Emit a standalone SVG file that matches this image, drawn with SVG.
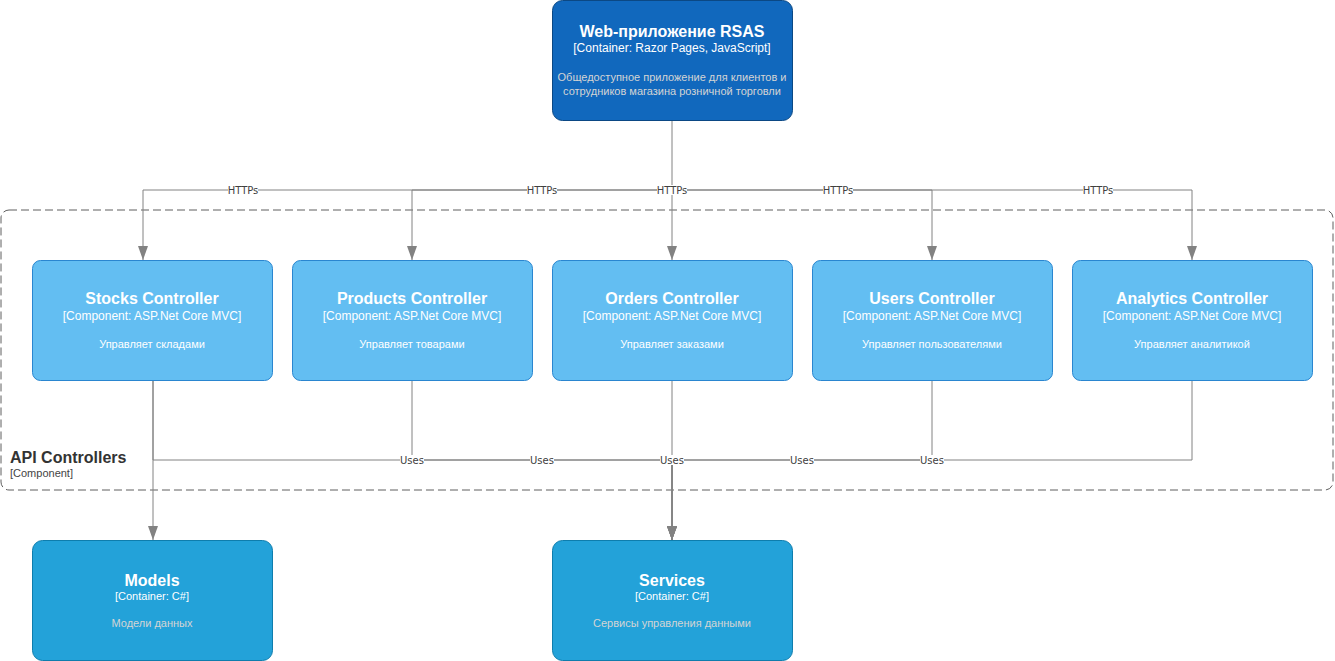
<svg xmlns="http://www.w3.org/2000/svg" width="1335" height="661" viewBox="0 0 1335 661">
<style>
.t{font-family:"Liberation Sans",Arial,sans-serif;fill:#fff;text-anchor:middle}
.h{font-size:16px;font-weight:bold}
.s{font-size:12px}
.d{font-size:11px}
.cont{fill:#1168bd;stroke:#0b4884}
.comp{fill:#63bef2;stroke:#2a86d0}
.db{fill:#23a2d9;stroke:#0e7dad}
.ln{fill:none;stroke:#828282;stroke-width:1}
.lb{font-family:"DejaVu Sans",sans-serif;font-size:10px;fill:#404040;text-anchor:middle}
.lbg{fill:#fff}
.dim{fill:#d4d4d4}
</style>
<defs>
<marker id="ar" markerWidth="10" markerHeight="14" refX="5" refY="14" orient="0" markerUnits="userSpaceOnUse" viewBox="0 0 10 14">
<path d="M0,0 L10,0 L5,14 Z" fill="#828282"/>
</marker>
</defs>
<rect width="1335" height="661" fill="#fff"/>
<g id="boundary">
<rect x="1" y="210" width="1332" height="280" rx="8" fill="none" stroke="#5e5e5e" stroke-dasharray="8,4"/>
<text x="10" y="463" font-family="Liberation Sans,Arial,sans-serif" font-size="16" font-weight="bold" fill="#333">API Controllers</text>
<text x="10" y="477" font-family="Liberation Sans,Arial,sans-serif" font-size="11" fill="#444">[Component]</text>
</g>
<g id="connectors">
<path class="ln" d="M672,120 V190 H143 V260" marker-end="url(#ar)"/>
<path class="ln" d="M672,190 H412 V260" marker-end="url(#ar)"/>
<path class="ln" d="M672,190 V260" marker-end="url(#ar)"/>
<path class="ln" d="M672,190 H932 V260" marker-end="url(#ar)"/>
<path class="ln" d="M672,190 H1192 V260" marker-end="url(#ar)"/>
<path class="ln" d="M153,380 V540" marker-end="url(#ar)"/>
<path class="ln" d="M153,380 V460 H672 V540" marker-end="url(#ar)"/>
<path class="ln" d="M412,380 V460 H672 V540" marker-end="url(#ar)"/>
<path class="ln" d="M672,380 V540" marker-end="url(#ar)"/>
<path class="ln" d="M932,380 V460 H672 V540" marker-end="url(#ar)"/>
<path class="ln" d="M1192,380 V460 H672 V540" marker-end="url(#ar)"/>
<g>
<rect class="lbg" x="228" y="185" width="30" height="10"/><text class="lb" x="243" y="193.5">HTTPs</text>
<rect class="lbg" x="527" y="185" width="30" height="10"/><text class="lb" x="542" y="193.5">HTTPs</text>
<rect class="lbg" x="657" y="185" width="30" height="10"/><text class="lb" x="672" y="193.5">HTTPs</text>
<rect class="lbg" x="823" y="185" width="30" height="10"/><text class="lb" x="838" y="193.5">HTTPs</text>
<rect class="lbg" x="1083" y="185" width="30" height="10"/><text class="lb" x="1098" y="193.5">HTTPs</text>
<rect class="lbg" x="400" y="455" width="24" height="10"/><text class="lb" x="412" y="463.5">Uses</text>
<rect class="lbg" x="530" y="455" width="24" height="10"/><text class="lb" x="542" y="463.5">Uses</text>
<rect class="lbg" x="660" y="455" width="24" height="10"/><text class="lb" x="672" y="463.5">Uses</text>
<rect class="lbg" x="790" y="455" width="24" height="10"/><text class="lb" x="802" y="463.5">Uses</text>
<rect class="lbg" x="920" y="455" width="24" height="10"/><text class="lb" x="932" y="463.5">Uses</text>
</g>
</g>
<g id="webapp">
<rect class="cont" x="552.5" y="0.5" width="240" height="120" rx="10"/>
<text class="t h" x="672" y="37">Web-приложение RSAS</text>
<text class="t s" x="672" y="52">[Container: Razor Pages, JavaScript]</text>
<text class="t d dim" x="672" y="81">Общедоступное приложение для клиентов и</text>
<text class="t d dim" x="672" y="95">сотрудников магазина розничной торговли</text>
</g>
<g id="stocks">
<rect class="comp" x="32.5" y="260.5" width="240" height="120" rx="8"/>
<text class="t h" x="152" y="304">Stocks Controller</text>
<text class="t s" x="152" y="320">[Component: ASP.Net Core MVC]</text>
<text class="t d" x="152" y="348">Управляет складами</text>
</g>
<g id="products">
<rect class="comp" x="292.5" y="260.5" width="240" height="120" rx="8"/>
<text class="t h" x="412" y="304">Products Controller</text>
<text class="t s" x="412" y="320">[Component: ASP.Net Core MVC]</text>
<text class="t d" x="412" y="348">Управляет товарами</text>
</g>
<g id="orders">
<rect class="comp" x="552.5" y="260.5" width="240" height="120" rx="8"/>
<text class="t h" x="672" y="304">Orders Controller</text>
<text class="t s" x="672" y="320">[Component: ASP.Net Core MVC]</text>
<text class="t d" x="672" y="348">Управляет заказами</text>
</g>
<g id="users">
<rect class="comp" x="812.5" y="260.5" width="240" height="120" rx="8"/>
<text class="t h" x="932" y="304">Users Controller</text>
<text class="t s" x="932" y="320">[Component: ASP.Net Core MVC]</text>
<text class="t d" x="932" y="348">Управляет пользователями</text>
</g>
<g id="analytics">
<rect class="comp" x="1072.5" y="260.5" width="240" height="120" rx="8"/>
<text class="t h" x="1192" y="304">Analytics Controller</text>
<text class="t s" x="1192" y="320">[Component: ASP.Net Core MVC]</text>
<text class="t d" x="1192" y="348">Управляет аналитикой</text>
</g>
<g id="models">
<rect class="db" x="32.5" y="540.5" width="240" height="120" rx="10"/>
<text class="t h" x="152" y="586">Models</text>
<text class="t d" x="152" y="600">[Container: C#]</text>
<text class="t d dim" x="152" y="627">Модели данных</text>
</g>
<g id="services">
<rect class="db" x="552.5" y="540.5" width="240" height="120" rx="10"/>
<text class="t h" x="672" y="586">Services</text>
<text class="t d" x="672" y="600">[Container: C#]</text>
<text class="t d dim" x="672" y="627">Сервисы управления данными</text>
</g>
</svg>
